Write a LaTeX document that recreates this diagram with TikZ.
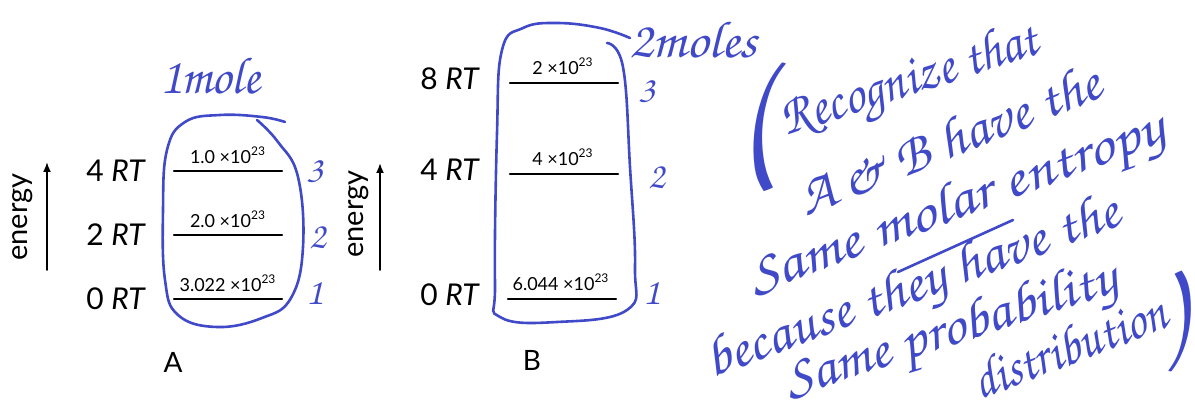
\documentclass[tikz,border=0pt]{standalone}
\usepackage{fontspec}
\setsansfont{Lato}
\newfontfamily\handfont{texgyrechorus-mediumitalic.otf}
\usetikzlibrary{arrows.meta}
\definecolor{InkBlue}{HTML}{4049C8}
\newcommand{\hand}[3][28]{\resizebox{#2}{\height}{\handfont\fontsize{#1}{#1}\selectfont #3}}
\tikzset{
  level/.style={line width=1.1pt},
  ink/.style={InkBlue,line width=1.3pt},
  energy label/.style={font=\sffamily\fontsize{15}{17}\selectfont},
  pop/.style={font=\sffamily\fontsize{9}{10}\selectfont,inner sep=0pt},
  axis label/.style={rotate=90,font=\sffamily\fontsize{14.5}{16}\selectfont},
  state num/.style={text=InkBlue,font=\handfont\fontsize{19}{20}\selectfont},
  note/.style={text=InkBlue,anchor=base west,inner sep=0pt}
}
\begin{document}
\begin{tikzpicture}[x=0.5pt,y=0.5pt,line cap=round,line join=round,font=\sffamily]
  \useasboundingbox (0,0) rectangle (1195,412);

  % system A
  \node[axis label] (enA) at (23,195) {energy};
  \coordinate (arA0) at (47,142);
  \coordinate (arA1) at (47,250);
  \draw[-{Latex[length=5pt,width=4pt]},line width=0.9pt] (arA0) -- (arA1);
  \foreach \y/\e/\pop [count=\i] in {241/4/1.0,177/2/2.0,113/0/3.022}{
    \node[energy label] (eA\i) at (116,\y) {\e\ \textit{RT}};
    \coordinate (lA\i w) at (174,\y);
    \coordinate (lA\i e) at (282,\y);
    \draw[level] (lA\i w) -- (lA\i e);
    \node[pop] (pA\i) at (228,\y+16) {\pop\ ×10\textsuperscript{23}};
  }
  \node[state num] (nA3) at (315,240) {3};
  \node[state num] (nA2) at (318,174) {2};
  \node[state num] (nA1) at (315,119) {1};
  \node[font=\sffamily\fontsize{14}{16}\selectfont] (labA) at (173,50) {A};
  \node[text=InkBlue] (moleA) at (210,336) {\hand[26]{50pt}{1mole}};
  \draw[ink] plot[smooth,tension=0.7] coordinates {(257,292) (278,270) (298,235) (303,165)
    (291,114) (262,94) (217,85) (178,97) (165,132) (163,202) (167,262) (185,290)
    (220,297) (262,295) (285,290)};

  % system B
  \node[axis label] (enB) at (359,198) {energy};
  \coordinate (arB0) at (380,142);
  \coordinate (arB1) at (380,249);
  \draw[-{Latex[length=5pt,width=4pt]},line width=0.9pt] (arB0) -- (arB1);
  \foreach \y/\e/\pop/\x [count=\i] in {329/8/2/510,238/4/4/510,113/0/6.044/508}{
    \node[energy label] (eB\i) at (450,\y+4) {\e\ \textit{RT}};
    \coordinate (lB\i w) at (\x,\y);
    \coordinate (lB\i e) at (\x+108,\y);
    \draw[level] (lB\i w) -- (lB\i e);
    \node[pop] (pB\i) at (\x+53,\y+17) {\pop\ ×10\textsuperscript{23}};
  }
  \node[state num] (nB3) at (647,320) {3};
  \node[state num] (nB2) at (657,234) {2};
  \node[state num] (nB1) at (652,119) {1};
  \node[font=\sffamily\fontsize{14}{16}\selectfont] (labB) at (532,52) {B};
  \node[text=InkBlue] (moleB) at (693,372) {\hand[26]{64pt}{2moles}};
  \draw[ink] plot[smooth,tension=0.7] coordinates {(607,369) (623,345) (630,245) (635,145)
    (627,102) (557,90) (500,95) (495,129) (497,279) (502,362) (523,384) (557,389)
    (600,384) (630,374)};

  % remark
  \node[text=InkBlue,rotate=8,inner sep=0pt] (lpar) at (752,282) {\resizebox{20pt}{50pt}{\handfont (}};
  \node[note,rotate=18] (r1) at (786,276) {\hand{134pt}{Recognize that}};
  \node[note,rotate=22] (r2) at (806,195) {\hand{161pt}{A\,\& B have the}};
  \node[note,rotate=20.5] (r3) at (755,117) {\hand{220pt}{Same molar entropy}};
  \coordinate (ul0) at (898,140);
  \coordinate (ul1) at (1013,192);
  \draw[ink] (ul0) -- (ul1);
  \node[note,rotate=20.5] (r4) at (712,34) {\hand{219pt}{because they have the}};
  \node[note,rotate=18] (r5) at (790,14) {\hand{173pt}{Same probability}};
  \node[note,rotate=21] (r6) at (980,12) {\hand{102pt}{distribution}};
  \node[text=InkBlue,rotate=10,inner sep=0pt] (rpar) at (1171,90) {\resizebox{13pt}{39pt}{\handfont )}};
\end{tikzpicture}
\end{document}
